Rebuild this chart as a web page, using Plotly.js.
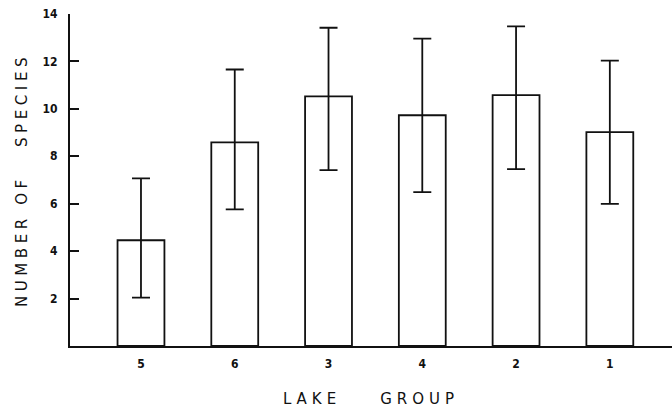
<!DOCTYPE html>
<html><head><meta charset="utf-8">
<script src="https://cdn.plot.ly/plotly-3.0.1.min.js"></script>
<style>body{margin:0;background:#fff}#chart{width:672px;height:412px}</style>
</head><body><div id="chart"></div>
<script>
const lakeGroups = ['5', '6', '3', '4', '2', '1'];
const meanSpecies = [4.46, 8.59, 10.53, 9.73, 10.58, 9.02];
const upperLimit = [7.07, 11.66, 13.42, 12.96, 13.48, 12.03];
const lowerLimit = [2.04, 5.76, 7.42, 6.49, 7.46, 5.99];
const yTicks = [2, 4, 6, 8, 10, 12, 14];

const errUpper = upperLimit.map((u, i) => u - meanSpecies[i]);
const errLower = lowerLimit.map((l, i) => meanSpecies[i] - l);

const trace = {
  type: 'bar', x: lakeGroups, y: meanSpecies, width: 0.5,
  marker: {color: '#ffffff', line: {color: '#111', width: 1.8}},
  error_y: {type: 'data', symmetric: false, array: errUpper, arrayminus: errLower,
            color: '#111', thickness: 1.8, width: 9},
  hoverinfo: 'skip'
};
const layout = {
  width: 672, height: 412,
  margin: {l: 70, r: 0, t: 14, b: 66},
  paper_bgcolor: '#fff', plot_bgcolor: '#fff',
  showlegend: false,
  xaxis: {type: 'category', categoryorder: 'array', categoryarray: lakeGroups,
          range: [-0.757, 5.663], showline: true, linecolor: '#111', linewidth: 2,
          ticks: '', showgrid: false, zeroline: false, ticklabelstandoff: 6,
          tickfont: {family: 'DejaVu Sans Condensed', size: 12, color: '#111', weight: 'bold'},
          title: {text: 'LAKE    GROUP', standoff: 23,
                  font: {family: 'DejaVu Sans', size: 15, color: '#111'}}},
  yaxis: {range: [0, 14], tickvals: yTicks, ticktext: yTicks.map(String),
          showline: true, linecolor: '#111', linewidth: 2,
          ticks: 'inside', ticklen: 9, tickwidth: 2, tickcolor: '#111',
          showgrid: false, zeroline: false, ticklabelstandoff: 8,
          tickfont: {family: 'DejaVu Sans Condensed', size: 12, color: '#111', weight: 'bold'},
          title: {text: 'NUMBER OF   SPECIES', standoff: 11,
                  font: {family: 'DejaVu Sans', size: 15, color: '#111'}}}
};
Plotly.newPlot('chart', [trace], layout, {staticPlot: true}).then(() => {
  document.querySelectorAll('.xtitle').forEach(t => t.style.letterSpacing = '5px');
  document.querySelectorAll('.ytitle').forEach(t => t.style.letterSpacing = '4.6px');
});
</script></body></html>
